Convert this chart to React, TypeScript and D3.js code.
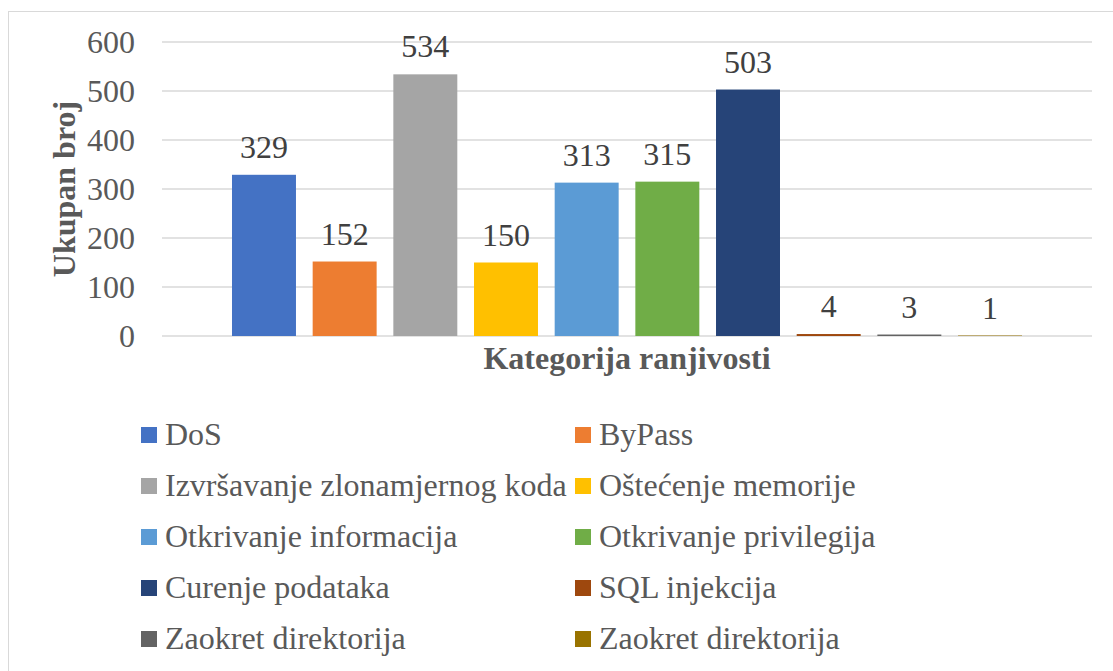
import React from 'react';
import * as d3 from 'd3';

const category = 'Kategorija ranjivosti';
const seriesNames = [
  'DoS',
  'ByPass',
  'Izvršavanje zlonamjernog koda',
  'Oštećenje memorije',
  'Otkrivanje informacija',
  'Otkrivanje privilegija',
  'Curenje podataka',
  'SQL injekcija',
  'Zaokret direktorija',
  'Zaokret direktorija',
];
const seriesValues = [329, 152, 534, 150, 313, 315, 503, 4, 3, 1];
const seriesColors = [
  '#4472C4',
  '#ED7D31',
  '#A5A5A5',
  '#FFC000',
  '#5B9BD5',
  '#70AD47',
  '#264478',
  '#9E480E',
  '#636363',
  '#997300',
];
const yTicks = [0, 100, 200, 300, 400, 500, 600];

const W = 1113;
const H = 671;
const textColor = '#595959';
const gridColor = '#D9D9D9';
const serif = { fontFamily: 'Liberation Serif' };

export default function App() {
  const plot = { left: 162, right: 1092, top: 42, bottom: 336 };

  const y = d3.scaleLinear().domain([0, 600]).range([plot.bottom, plot.top]);
  const x0 = d3
    .scaleBand()
    .domain([category])
    .range([plot.left, plot.right])
    .paddingInner(0)
    .paddingOuter(0.0886);
  const x1 = d3
    .scaleBand()
    .domain(seriesNames.map((_, i) => String(i)))
    .range([0, x0.bandwidth()])
    .paddingInner(0.207)
    .paddingOuter(0);

  const bx = x0(category) as number;
  const rowH = 51;

  return (
    <svg width={W} height={H} style={{ position: 'absolute', left: 0, top: 0 }}>
      <style>{`svg text { font-family: 'Liberation Serif', serif !important; }`}</style>
      <rect x={0} y={0} width={W} height={H} fill="#fff" />
      <rect x={8.5} y={11.5} width={W} height={H} fill="none" stroke={gridColor} strokeWidth={1} />

      {/* grid */}
      {yTicks.map((t) => (
        <line
          key={'g' + t}
          x1={plot.left}
          x2={plot.right}
          y1={y(t)}
          y2={y(t)}
          stroke={gridColor}
          strokeWidth={1.3}
        />
      ))}

      {/* y tick labels */}
      {yTicks.map((t) => (
        <text key={'t' + t} style={serif} x={135} y={y(t) + 11} textAnchor="end" fontSize={32} fill={textColor}>
          {t}
        </text>
      ))}

      {/* bars */}
      {seriesValues.map((v, i) => {
        const xx = bx + (x1(String(i)) as number);
        return (
          <g key={'b' + i}>
            <rect x={xx} y={y(v)} width={x1.bandwidth()} height={y(0) - y(v)} fill={seriesColors[i]} />
            <text
              style={serif}
              x={xx + x1.bandwidth() / 2}
              y={y(v) - 17}
              textAnchor="middle"
              fontSize={32}
              fill="#404040"
            >
              {v}
            </text>
          </g>
        );
      })}

      {/* axis titles */}
      <text
        style={serif}
        x={(plot.left + plot.right) / 2}
        y={369}
        textAnchor="middle"
        fontSize={32}
        fontWeight="bold"
        fill={textColor}
      >
        {category}
      </text>
      <text
        style={serif}
        transform={`translate(75, ${(plot.top + plot.bottom) / 2}) rotate(-90)`}
        textAnchor="middle"
        fontSize={32}
        fontWeight="bold"
        fill={textColor}
      >
        Ukupan broj
      </text>

      {/* legend */}
      {seriesNames.map((name, i) => {
        const col = i % 2;
        const row = Math.floor(i / 2);
        const lx = col === 0 ? 141 : 575;
        const cy = 435 + row * rowH;
        return (
          <g key={'l' + i}>
            <rect x={lx} y={cy - 8} width={16} height={16} fill={seriesColors[i]} />
            <text style={serif} x={lx + 24} y={cy + 10} fontSize={32} fill={textColor}>
              {name}
            </text>
          </g>
        );
      })}
    </svg>
  );
}
